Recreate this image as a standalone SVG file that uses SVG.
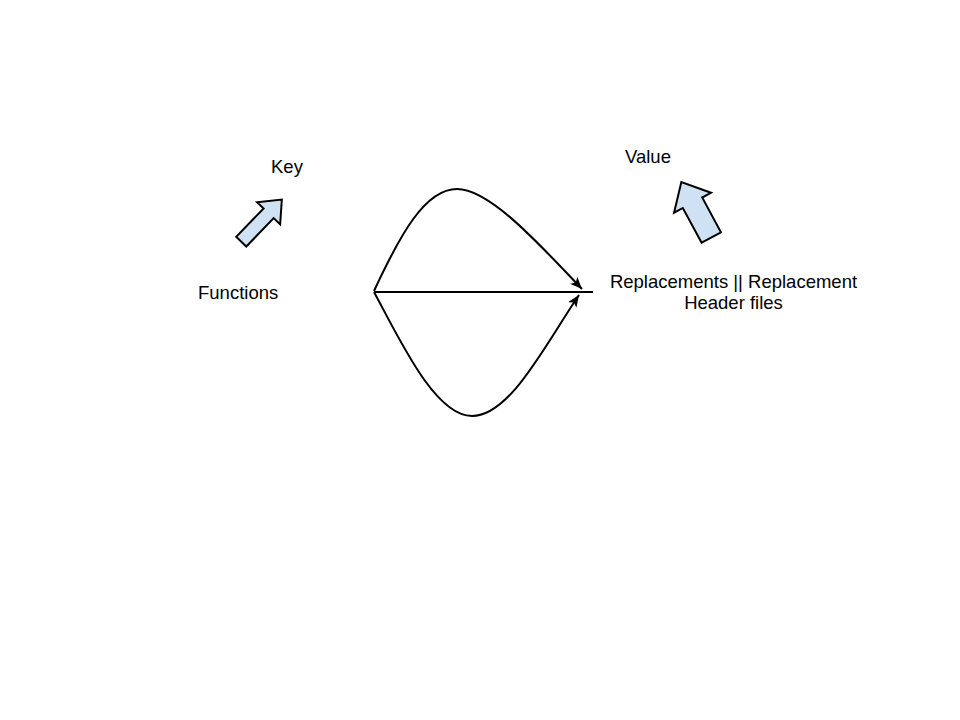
<svg xmlns="http://www.w3.org/2000/svg" width="960" height="720" viewBox="0 0 960 720">
<style>
  .lbl { font-family: "Liberation Sans", Arial, sans-serif; font-size: 18.5px; fill: #000; }
  .blk { fill: #cfe2f3; stroke: #000; stroke-width: 2; stroke-linejoin: miter; }
  .edge { fill: none; stroke: #000; stroke-width: 2; }
</style>
<defs>
  <marker id="ah" markerUnits="userSpaceOnUse" markerWidth="14" markerHeight="12" refX="12" refY="5" orient="auto" viewBox="0 0 14 12">
    <path d="M0,0 L12,5 L0,10 L3,5 z" fill="#000"/>
  </marker>
</defs>
<rect width="960" height="720" fill="#fff"/>
<g id="key">
  <text class="lbl" x="271" y="173">Key</text>
</g>
<g id="key-arrow">
  <polygon class="blk" transform="translate(241.2,241.7) rotate(-46)" points="0,-7 39.5,-7 39.5,-16 58.5,0 39.5,16 39.5,7 0,7"/>
</g>
<g id="functions">
  <text class="lbl" x="198" y="299">Functions</text>
</g>
<g id="value">
  <text class="lbl" x="625" y="163">Value</text>
</g>
<g id="value-arrow">
  <polygon class="blk" transform="translate(711.3,237.5) rotate(-118.4)" points="0,-11 39.5,-11 39.5,-21 63,0 39.5,21 39.5,11 0,11"/>
</g>
<g id="replacements">
  <text class="lbl" x="733.5" y="288" text-anchor="middle">Replacements || Replacement</text>
  <text class="lbl" x="733.5" y="309" text-anchor="middle">Header files</text>
</g>
<g id="connectors">
  <path class="edge" d="M374,291 C400,235 425,189 457,189 C490,189 540,245 582,289" marker-end="url(#ah)"/>
  <path class="edge" d="M374,292 L593,292"/>
  <path class="edge" d="M374,292 C400,340 435,416 472,416 C510,416 545,345 579,295" marker-end="url(#ah)"/>
</g>
</svg>
